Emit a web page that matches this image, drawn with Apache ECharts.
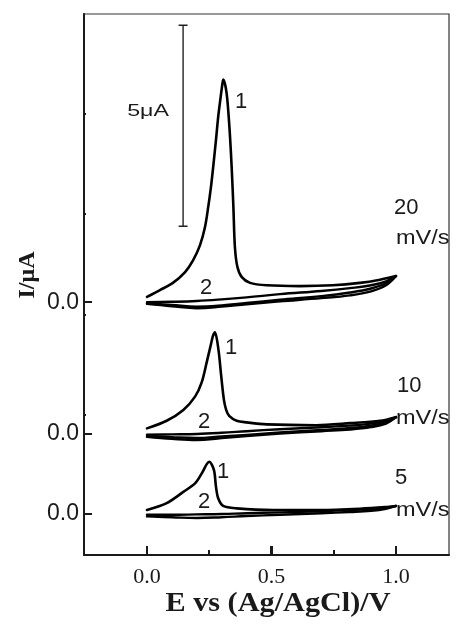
<!DOCTYPE html>
<html><head><meta charset="utf-8">
<script src="https://cdn.jsdelivr.net/npm/echarts@6/dist/echarts.min.js"></script>
<style>html,body{margin:0;padding:0;background:#fff}#c{width:459px;height:625px}</style>
</head><body><div id="c"></div>
<script>
// ---- data (E in V, I in µA) ----
const stackOffsets = [5.27, 1.99, 0];          // vertical shift of each voltammogram (20, 10, 5 mV/s)
const rateLabels = ['20', '10', '5'];
const xMajorTicks = [0, 0.5, 1.0];
const xMinorTicks = [0.25, 0.75];
const yZeroTicks = [5.27, 1.99, 0];
const yMinorTicks = [2.46, 4.95, 7.46, 9.95];

const fwdE20 = [0,0.052,0.104,0.153,0.185,0.213,0.233,0.246,0.257,0.266,0.277,0.286,0.296,0.304,0.307,0.320,0.331,0.340,0.347,0.353,0.363,0.380,0.414,0.481,0.614,0.747,0.855,0.936,1.0];
const fwdI20 = [0.13,0.30,0.48,0.75,1.04,1.42,1.87,2.37,2.87,3.37,4.03,4.61,5.11,5.48,5.54,5.19,4.36,3.37,2.37,1.38,0.88,0.63,0.48,0.42,0.40,0.42,0.48,0.56,0.65];
const fwdE10 = [0,0.079,0.146,0.193,0.22,0.24,0.256,0.265,0.273,0.287,0.298,0.309,0.318,0.33,0.36,0.40,0.481,0.681,0.815,0.936,1.0];
const fwdI10 = [0.14,0.33,0.60,0.93,1.29,1.79,2.21,2.44,2.53,2.1,1.45,0.85,0.6,0.45,0.33,0.29,0.24,0.22,0.27,0.33,0.42];
const fwdE5 = [0,0.079,0.146,0.193,0.22,0.24,0.25,0.269,0.277,0.286,0.306,0.36,0.507,0.695,0.855,0.956,1.0];
const fwdI5 = [0.10,0.27,0.55,0.76,1.01,1.24,1.30,1.09,0.68,0.39,0.20,0.14,0.10,0.10,0.13,0.17,0.20];

const loopE = [0,0.1,0.2,0.3,0.4,0.534,0.7,0.815,0.9,0.96,1.0];
const loopA20 = [0.0,0.01,0.03,0.07,0.12,0.2,0.28,0.35,0.42,0.52,0.65];
const loopB20 = [-0.04,-0.1,-0.15,-0.11,-0.05,0.02,0.1,0.17,0.27,0.42,0.65];
const loopC20 = [-0.03,-0.07,-0.11,-0.08,-0.02,0.06,0.15,0.24,0.34,0.47,0.65];
const loopA10 = [-0.02,-0.01,0.0,0.03,0.07,0.12,0.17,0.21,0.26,0.33,0.42];
const loopB10 = [-0.07,-0.12,-0.15,-0.1,-0.05,0.01,0.07,0.11,0.17,0.26,0.42];
const loopC10 = [-0.05,-0.08,-0.1,-0.06,-0.02,0.04,0.1,0.15,0.21,0.29,0.42];
const loopA5 = [-0.02,-0.02,-0.01,0.0,0.02,0.04,0.07,0.1,0.13,0.16,0.2];
const loopB5 = [-0.06,-0.08,-0.1,-0.08,-0.05,-0.02,0.02,0.05,0.08,0.13,0.2];

const scaleBarE = 0.145, scaleBarBottom = 7.16, scaleBarLength = 5, scaleBarCap = 0.018;

// ---- build ----
const LINE = '#000';
const xMin = -0.253, xMax = 1.213, yMin = -1.02, yMax = 12.44;
function pts(E, I, off) { return E.map((e, i) => [e, I[i] + off]); }
const groups = [
  {fwd: [fwdE20, fwdI20], loops: [loopA20, loopB20, loopC20]},
  {fwd: [fwdE10, fwdI10], loops: [loopA10, loopB10, loopC10]},
  {fwd: [fwdE5, fwdI5], loops: [loopA5, loopB5]}
];
const series = [];
groups.forEach((g, k) => {
  const off = stackOffsets[k];
  series.push({type:'line', data: pts(g.fwd[0], g.fwd[1], off), smooth:0.3, showSymbol:false, lineStyle:{color:LINE, width:2.6, join:'round', cap:'round'}, silent:true});
  g.loops.forEach(L => series.push({type:'line', data: pts(loopE, L, off), smooth:0.4, showSymbol:false, lineStyle:{color:LINE, width:2.4, join:'round', cap:'round'}, silent:true}));
});
// scale bar
series.push({type:'line', data:[[scaleBarE, scaleBarBottom],[scaleBarE, scaleBarBottom+scaleBarLength]], showSymbol:false, lineStyle:{color:'#222', width:1.4}, silent:true});
series.push({type:'line', data:[[scaleBarE-scaleBarCap, scaleBarBottom],[scaleBarE+scaleBarCap, scaleBarBottom]], showSymbol:false, lineStyle:{color:'#222', width:1.4}, silent:true});
series.push({type:'line', data:[[scaleBarE-scaleBarCap, scaleBarBottom+scaleBarLength],[scaleBarE+scaleBarCap, scaleBarBottom+scaleBarLength]], showSymbol:false, lineStyle:{color:'#222', width:1.4}, silent:true});

const SANS = '"Liberation Sans", Arial, sans-serif';
const SERIF = '"Liberation Serif", "Times New Roman", serif';
function txt(t, x, y, size, opts) {
  opts = opts || {};
  return {type:'text', x:x, y:y, scaleX: opts.sx || 1, rotation: opts.rot || 0, z: 100,
    style:{text:t, font:(opts.bold?'bold ':'') + size + 'px ' + (opts.font || SANS), fill:'#1a1a1a',
      align: opts.align || 'center', verticalAlign:'middle'}};
}
const graphics = [
  txt('5\u03bcA', 148, 112, 16, {sx:1.45}),
  txt('1', 241, 102, 22), txt('2', 206, 288, 22),
  txt('1', 231, 348, 22), txt('2', 204, 422, 22),
  txt('1', 223, 472, 22), txt('2', 204, 502, 22),
  txt(rateLabels[0], 394, 208, 22, {align:'left'}), txt('mV/s', 396, 238, 21, {align:'left', sx:1.12}),
  txt(rateLabels[1], 397, 386, 22, {align:'left'}), txt('mV/s', 396, 418, 21, {align:'left', sx:1.12}),
  txt(rateLabels[2], 395, 478, 22, {align:'left'}), txt('mV/s', 396, 510, 21, {align:'left', sx:1.12}),
  txt('I/\u03bcA', 28, 275, 24, {bold:true, font:SERIF, rot:Math.PI/2}),
  txt('E vs (Ag/AgCl)/V', 278, 604, 27, {bold:true, font:SERIF, sx:1.12})
];

const option = {
  animation:false,
  grid:{left:84, right:10, top:14, bottom:70, show:true, borderColor:'#333', borderWidth:1.2, outerBoundsMode:'none'},
  xAxis:{type:'value', min:xMin, max:xMax, position:'bottom',
     axisLine:{show:true, onZero:false, lineStyle:{color:'#1a1a1a', width:2}},
     axisTick:{show:true, inside:true, length:9, customValues:xMajorTicks, lineStyle:{color:'#1a1a1a', width:2}},
     axisLabel:{show:true, customValues:xMajorTicks, formatter:v=>v.toFixed(1), margin:11, color:'#1a1a1a', fontFamily:SERIF, fontSize:22},
     splitLine:{show:false}},
  yAxis:{type:'value', min:yMin, max:yMax, position:'left',
     axisLine:{show:true, onZero:false, lineStyle:{color:'#1a1a1a', width:2}},
     axisTick:{show:true, inside:true, length:8, customValues:yZeroTicks, lineStyle:{color:'#1a1a1a', width:1.8}},
     axisLabel:{show:true, customValues:yZeroTicks, formatter:()=> '0.0', margin:5, color:'#1a1a1a', fontFamily:SANS, fontSize:23},
     splitLine:{show:false}},
  series: series,
  graphic: graphics
};
const chart = echarts.init(document.getElementById('c'), null, {renderer:'canvas'});
chart.setOption(option);

// tick marks positioned through the chart's own scales
const tickEls = [];
function xTick(v, len) {
  const p = chart.convertToPixel({gridIndex:0}, [v, yMin]);
  tickEls.push({type:'rect', z:50, shape:{x:Math.round(p[0]) - 1, y:Math.round(p[1]) - len, width:2, height:len}, style:{fill:'#1a1a1a'}});
}
function yTick(v, len) {
  const p = chart.convertToPixel({gridIndex:0}, [xMin, v]);
  tickEls.push({type:'rect', z:50, shape:{x:Math.round(p[0]), y:Math.round(p[1]) - 1, width:len, height:2}, style:{fill:'#1a1a1a'}});
}
xMajorTicks.forEach(v => xTick(v, 9));
xMinorTicks.forEach(v => xTick(v, 5));
yZeroTicks.forEach(v => yTick(v, 8));
yMinorTicks.forEach(v => yTick(v, 2));
chart.setOption({graphic: graphics.concat(tickEls)});
</script></body></html>
